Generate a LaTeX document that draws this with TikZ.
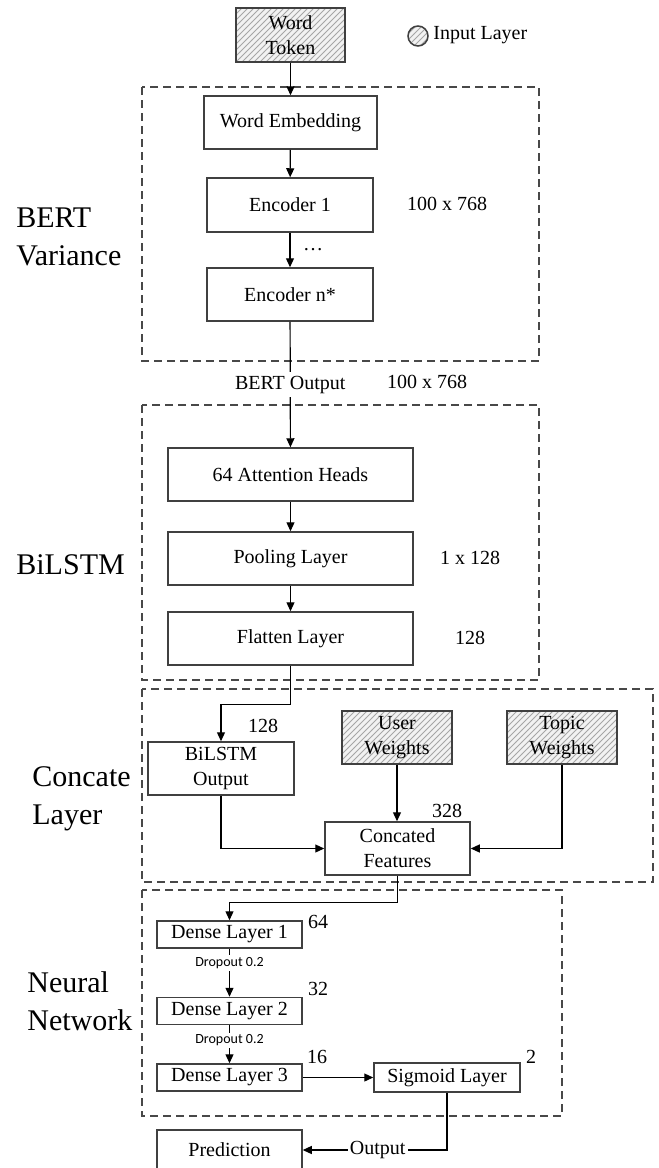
\documentclass[tikz,border=0pt]{standalone}
\usepackage{fontspec}
\setmainfont{Liberation Serif}
\newfontfamily\dropfont{Carlito}
\usetikzlibrary{arrows.meta,patterns,positioning}
\definecolor{boxline}{RGB}{64,64,64}
\definecolor{dashline}{RGB}{72,72,72}

\begin{document}
\begin{tikzpicture}[x=0.5pt, y=-0.5pt,
  every node/.style={font=\fontsize{10}{12.5}\selectfont, align=center},
  layer/.style={draw=boxline, line width=0.75pt, inner sep=1.5pt},
  inputlayer/.style={layer, preaction={fill=gray!10}, pattern=north east lines, pattern color=gray!70},
  group/.style={draw=dashline, line width=0.8pt, dash pattern=on 4pt off 2.5pt},
  flow/.style={-{Triangle[length=4.5pt,width=4pt]}, line width=0.6pt},
  dimlabel/.style={inner sep=0pt},
  section/.style={font=\fontsize{15}{19}\selectfont, align=left, anchor=west, inner sep=0pt},
  droplabel/.style={font=\dropfont\fontsize{7}{8}\selectfont, fill=white, inner sep=1pt}]
\clip (0,0) rectangle (659,1168);

% input token and legend
\node[inputlayer, minimum width=54.5pt, minimum height=27pt] (token) at (290.5,35) {Word\\Token};
\node[inputlayer, circle, minimum size=10pt, inner sep=0pt] (legendmark) at (418,36) {};
\node[anchor=west, inner sep=0pt] (legendtext) at (433,35) {Input Layer};

% BERT block
\draw[group] (142,87) rectangle (539,361);
\node[section] (bertname) at (16,237) {BERT\\Variance};
\node[layer, minimum width=86.5pt, minimum height=26.5pt] (embed) at (290.5,122.5) {Word Embedding};
\node[layer, minimum width=83pt, minimum height=27pt] (enc1) at (290,205) {Encoder 1};
\node[layer, minimum width=83pt, minimum height=26.5pt] (encn) at (290,294.5) {Encoder n*};
\node[dimlabel] (encdim) at (447,204) {100 x 768};
\node[inner sep=0pt] (encdots) at (313,250) {\dots};

\draw[flow] (token) -- (embed);
\draw[flow] (embed) -- (enc1);
\draw[flow] (enc1) -- (encn);

% BiLSTM block
\draw[group] (142,405) rectangle (539,680);
\node[section] (lstmname) at (16,565) {BiLSTM};
\node[layer, minimum width=122.5pt, minimum height=26.5pt] (attn) at (290.5,474.5) {64 Attention Heads};
\node[layer, minimum width=122.5pt, minimum height=26.5pt] (pool) at (290.5,558.5) {Pooling Layer};
\node[layer, minimum width=122.5pt, minimum height=26.5pt] (flat) at (290.5,638.5) {Flatten Layer};
\node[dimlabel] (bertdim) at (427,382) {100 x 768};
\node[dimlabel] (pooldim) at (470,558) {1 x 128};
\node[dimlabel] (flatdim) at (470,638) {128};

\draw[flow] (encn) -- (attn) node[midway, fill=white, inner sep=2pt] (bertout) {BERT Output};
\draw[flow] (attn) -- (pool);
\draw[flow] (pool) -- (flat);

% concatenation block
\draw[group] (142,689) rectangle (653,882);
\node[section] (concname) at (32,799) {Concate\\Layer};
\node[layer, minimum width=73pt, minimum height=26.5pt] (lstmout) at (221,768.5) {BiLSTM\\Output};
\node[inputlayer, minimum width=55pt, minimum height=26.5pt] (user) at (397,737.5) {User\\Weights};
\node[inputlayer, minimum width=55pt, minimum height=26.5pt] (topic) at (562,737.5) {Topic\\Weights};
\node[layer, minimum width=72.5pt, minimum height=26.5pt] (concat) at (397.5,848.5) {Concated\\Features};
\node[dimlabel] (lstmdim) at (263,726) {128};
\node[dimlabel] (concatdim) at (447,811) {328};

\draw[flow] (flat.south) -- ++(0,39) -| (lstmout.north);
\draw[flow] (lstmout.south) |- (concat.west);
\draw[flow] (user.south) -- (user.south |- concat.north);
\draw[flow] (topic.south) |- (concat.east);

% dense network
\draw[group] (142,890) rectangle (562,1116);
\node[section] (netname) at (27,1001) {Neural\\Network};
\node[layer, inner ysep=0.5pt, minimum width=72.5pt, minimum height=13.5pt] (dense1) at (229.5,934.5) {Dense Layer 1};
\node[layer, inner ysep=0.5pt, minimum width=72.5pt, minimum height=13.5pt] (dense2) at (229.5,1011) {Dense Layer 2};
\node[layer, inner ysep=0.5pt, minimum width=72.5pt, minimum height=13.5pt] (dense3) at (229.5,1077.5) {Dense Layer 3};
\node[layer, inner ysep=0.5pt, minimum width=73pt, minimum height=14.5pt] (sigmoid) at (447,1077.5) {Sigmoid Layer};
\node[layer, minimum width=72.5pt, minimum height=20pt] (predict) at (229.5,1150) {Prediction};
\node[dimlabel] (d1dim) at (318,922) {64};
\node[dimlabel] (d2dim) at (318,989) {32};
\node[dimlabel] (d3dim) at (317,1057) {16};
\node[dimlabel] (sigdim) at (531,1057) {2};

\draw[flow] (concat.south) -- ++(0,27) -| (dense1.north);
\draw[flow] (dense1) -- (dense2) node[droplabel, pos=0.3] (drop1) {Dropout 0.2};
\draw[flow] (dense2) -- (dense3) node[droplabel, pos=0.4] (drop2) {Dropout 0.2};
\draw[flow] (dense3) -- (sigmoid);
\draw[flow] (sigmoid.south) |- (predict.east) node[pos=0.74, fill=white, inner sep=1pt] (outlabel) {Output};
\end{tikzpicture}
\end{document}
